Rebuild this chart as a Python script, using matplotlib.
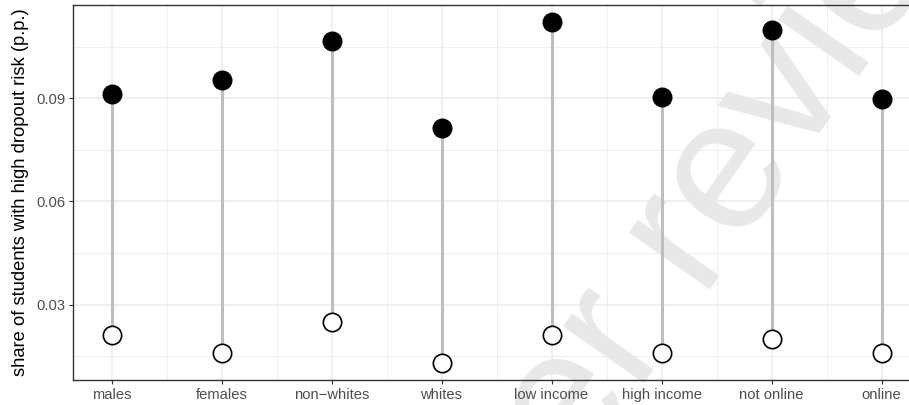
import matplotlib
matplotlib.use("Agg")
import matplotlib.pyplot as plt
import numpy as np
from matplotlib.ticker import MultipleLocator

plt.rcParams['font.family'] = ['Liberation Sans', 'DejaVu Sans']

# share of students flagged as high dropout risk, by group
groups = ["males", "females", "non\u2212whites", "whites",
          "low income", "high income", "not online", "online"]
share_high = [0.0913, 0.0953, 0.1068, 0.0815, 0.1123, 0.0904, 0.1099, 0.0898]
share_low = [0.0210, 0.0159, 0.0250, 0.0130, 0.0210, 0.0159, 0.0200, 0.0159]
y_ticks = [0.03, 0.06, 0.09]
y_tick_labels = ["0.03", "0.06", "0.09"]

W, H = 909, 405
fig = plt.figure(figsize=(W / 100, H / 100), dpi=100)
ax = fig.add_axes([73 / W, 25 / H, 847 / W, 375.3 / H])

x = np.arange(1, len(groups) + 1)

# continuous scales with 5% padding on each side
lo, hi = min(share_low), max(share_high)
pad = (hi - lo) * 0.05
ax.set_ylim(lo - pad, hi + pad)
ax.set_xlim(1 - 0.35, len(groups) + 0.35)

ax.set_axisbelow(True)
ax.set_xticks(x)
ax.set_xticklabels(groups)
ax.set_yticks(y_ticks)
ax.set_yticklabels(y_tick_labels)

# panel grid drawn by hand so the stamp can sit on top of it
grid_kw = dict(color="#EBEBEB", zorder=0.2)
for xv in x:
    ax.axvline(xv, linewidth=1.1, **grid_kw)
for xv in x[:-1] + 0.5:
    ax.axvline(xv, linewidth=0.55, **grid_kw)
ax.axvline(x[0] - 0.5, linewidth=0.55, **grid_kw)
for yv in y_ticks:
    ax.axhline(yv, linewidth=1.1, **grid_kw)
for yv in [0.015, 0.045, 0.075, 0.105]:
    ax.axhline(yv, linewidth=0.55, **grid_kw)

ax.tick_params(which="major", length=3, width=0.8, color="#333333",
               labelcolor="#4D4D4D", labelsize=10.6, pad=2.5)
for sp in ax.spines.values():
    sp.set_color("#333333")
    sp.set_linewidth(1.0)

ax.set_ylabel("share of students with high dropout risk (p.p.)",
              fontsize=13.2, color="black", labelpad=5)

# diagonal stamp, baseline starting below the bottom edge
ax.text(458 / W, 1 - 650 / H, "peer reviewed",
        transform=fig.transFigure, fontsize=135, color="#E8E8E8",
        rotation=55, rotation_mode="anchor", ha="left", va="baseline",
        clip_on=False, zorder=0.4)

# dumbbells: low-risk share to high-risk share
ax.vlines(x, share_low, share_high, color="#BEBEBE", linewidth=2.2, zorder=2)
ax.plot(x, share_high, "o", color="black", markersize=13.4, zorder=3)
ax.plot(x, share_low, "o", markerfacecolor="white", markeredgecolor="black",
        markeredgewidth=1.2, markersize=13.2, zorder=3)

fig.savefig("out.png", dpi=100)
